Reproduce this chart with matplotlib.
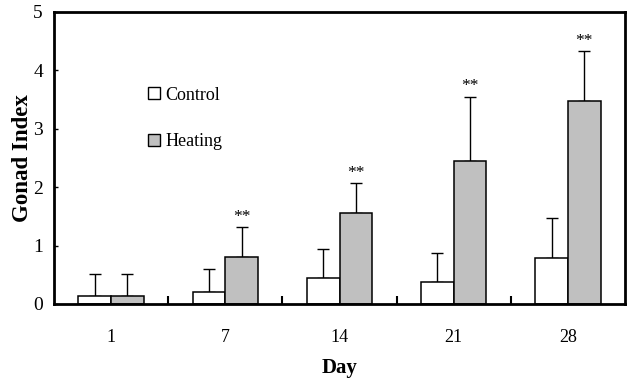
import matplotlib
matplotlib.use('Agg')
import matplotlib.pyplot as plt
from matplotlib.patches import Patch
import numpy as np

# data
days = ['1', '7', '14', '21', '28']
control = [0.13, 0.20, 0.45, 0.38, 0.78]
control_top = [0.51, 0.60, 0.95, 0.88, 1.48]     # top of error bar
heating = [0.13, 0.80, 1.55, 2.45, 3.47]
heating_top = [0.51, 1.32, 2.07, 3.55, 4.33]
signif = ['', '**', '**', '**', '**']

plt.rcParams['font.family'] = ['Liberation Serif', 'DejaVu Serif']

fig = plt.figure(figsize=(6.31, 3.82), dpi=100)
ax = fig.add_axes([54/631, 78/382, 571/631, 292/382])

x = np.arange(len(days))
w = 0.286
c_err = np.array(control_top) - np.array(control)
h_err = np.array(heating_top) - np.array(heating)

ax.bar(x - w/2, control, w, color='white', edgecolor='black', linewidth=1.1, zorder=2)
ax.bar(x + w/2, heating, w, color='#c0c0c0', edgecolor='black', linewidth=1.1, zorder=2)
ax.errorbar(x - w/2, control, yerr=[np.zeros(len(x)), c_err], fmt='none',
            ecolor='black', elinewidth=1, capsize=4, capthick=1, zorder=1)
ax.errorbar(x + w/2, heating, yerr=[np.zeros(len(x)), h_err], fmt='none',
            ecolor='black', elinewidth=1, capsize=4, capthick=1, zorder=1)

for i, s in enumerate(signif):
    if s:
        ax.text(x[i] + w/2, heating_top[i] + 0.04, s, ha='center', va='bottom', fontsize=12.5)

ax.set_xlim(-0.5, len(days) - 0.5)
ax.set_ylim(0, 5)
ax.set_yticks(range(6))
ax.set_xticks(x)
ax.set_xticklabels(days)
ax.set_xticks(x[:-1] + 0.5, minor=True)
ax.tick_params(axis='x', which='major', length=0, pad=18, labelsize=13)
ax.tick_params(axis='x', which='minor', direction='in', length=6, width=1.5)
ax.tick_params(axis='y', direction='in', length=3, width=1, pad=8, labelsize=14)

for sp in ax.spines.values():
    sp.set_linewidth(2)

ax.set_ylabel('Gonad Index', fontsize=16.5, fontweight='bold')
ax.yaxis.set_label_coords(-0.037, 0.5)
ax.set_xlabel('Day', fontsize=15, fontweight='bold', labelpad=9)

handles = [Patch(facecolor='white', edgecolor='black', linewidth=1),
           Patch(facecolor='#c0c0c0', edgecolor='black', linewidth=1)]
ax.legend(handles, ['Control', 'Heating'], loc='upper left', bbox_to_anchor=(0.137, 0.80),
          frameon=False, fontsize=13, handlelength=0.65, handleheight=0.65,
          handletextpad=0.3, labelspacing=1.63)

fig.savefig('out.png', dpi=100)
